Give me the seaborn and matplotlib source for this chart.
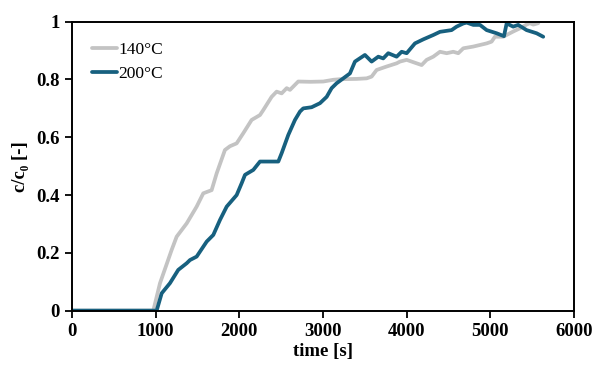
import pandas as pd
import matplotlib.pyplot as plt
import seaborn as sns

# --- data (time [s], c/c0 [-]) ---
t_140 = [0, 500, 972, 1052, 1191, 1251, 1371, 1490, 1569, 1669, 1729, 1828, 1888,
         1968, 2047, 2147, 2247, 2286, 2386, 2446, 2506, 2566, 2605, 2704, 2850,
         3003, 3123, 3203, 3400, 3522, 3581, 3641, 3761, 3880, 3920, 4000, 4119,
         4179, 4239, 4318, 4398, 4478, 4557, 4617, 4677, 4796, 4956, 5015, 5055,
         5154, 5273, 5353, 5433, 5473, 5513, 5573]
c_140 = [0, 0, 0, 0.095, 0.21, 0.256, 0.302, 0.36, 0.406, 0.417, 0.475, 0.556, 0.569,
         0.579, 0.614, 0.66, 0.677, 0.694, 0.74, 0.758, 0.752, 0.77, 0.764, 0.793, 0.792,
         0.793, 0.799, 0.801, 0.802, 0.804, 0.81, 0.833, 0.845, 0.856, 0.862, 0.868, 0.856,
         0.85, 0.868, 0.879, 0.896, 0.891, 0.896, 0.891, 0.908, 0.914, 0.925, 0.931, 0.948,
         0.948, 0.966, 0.977, 0.99, 0.995, 0.99, 0.995]

t_200 = [0, 500, 1012, 1072, 1171, 1270, 1371, 1410, 1490, 1610, 1689, 1769, 1849,
         1968, 2028, 2068, 2167, 2247, 2466, 2506, 2585, 2665, 2725, 2764, 2864,
         2964, 3044, 3103, 3163, 3322, 3382, 3501, 3581, 3661, 3720, 3780, 3880,
         3940, 4000, 4099, 4199, 4318, 4398, 4537, 4597, 4677, 4717, 4796, 4876,
         4956, 5075, 5163, 5195, 5273, 5333, 5433, 5553, 5632]
c_200 = [0, 0, 0, 0.06, 0.095, 0.141, 0.164, 0.175, 0.187, 0.239, 0.262, 0.314, 0.36,
         0.40, 0.441, 0.47, 0.487, 0.516, 0.516, 0.545, 0.608, 0.66, 0.689, 0.70, 0.704,
         0.718, 0.74, 0.77, 0.787, 0.821, 0.862, 0.885, 0.862, 0.879, 0.873, 0.891, 0.879,
         0.896, 0.891, 0.925, 0.939, 0.954, 0.965, 0.971, 0.983, 0.994, 0.997, 0.989, 0.989,
         0.971, 0.96, 0.95, 0.994, 0.983, 0.989, 0.971, 0.96, 0.948]

series_names = ['140°C', '200°C']
series_colors = ['#c3c3c3', '#17607f']

df = pd.concat([
    pd.DataFrame({'time': t_140, 'c': c_140, 'series': series_names[0]}),
    pd.DataFrame({'time': t_200, 'c': c_200, 'series': series_names[1]}),
], ignore_index=True)

sns.set_theme(style="white")
plt.rcParams['font.family'] = ['Liberation Serif', 'DejaVu Serif']

fig = plt.figure(figsize=(5.92, 3.65), dpi=100)
ax = fig.add_axes([0.1216, 0.149, 0.848, 0.7915])

sns.lineplot(data=df, x='time', y='c', hue='series', hue_order=series_names,
             palette=dict(zip(series_names, series_colors)), linewidth=2.7,
             estimator=None, sort=False, ax=ax)

ax.set_xlim(0, 6000)
ax.set_ylim(0, 1)
ax.set_xticks([0, 1000, 2000, 3000, 4000, 5000, 6000])
ax.set_yticks([0, 0.2, 0.4, 0.6, 0.8, 1])
ax.set_yticklabels(['0', '0.2', '0.4', '0.6', '0.8', '1'])
for lbl in ax.get_xticklabels() + ax.get_yticklabels():
    lbl.set_fontweight('bold')
    lbl.set_fontsize(13.5)
ax.tick_params(direction='out', length=5, width=1.3, colors='black', pad=4,
               bottom=True, left=True)
for sp in ax.spines.values():
    sp.set_color('black')
    sp.set_linewidth(1.4)

ax.set_xlabel('time [s]', fontsize=13.5, fontweight='bold', labelpad=2, color='black')
ax.set_ylabel('c/c₀ [-]', fontsize=13.5, fontweight='bold', labelpad=5, color='black')

leg = ax.legend(loc='upper left', bbox_to_anchor=(0.027, 0.955), frameon=False,
                fontsize=12.5, handlelength=1.4, handletextpad=0.1,
                labelspacing=0.45, borderaxespad=0)
for line in leg.get_lines():
    line.set_linewidth(2.7)
for txt in leg.get_texts():
    txt.set_color('black')

fig.savefig('out.png', dpi=100)
